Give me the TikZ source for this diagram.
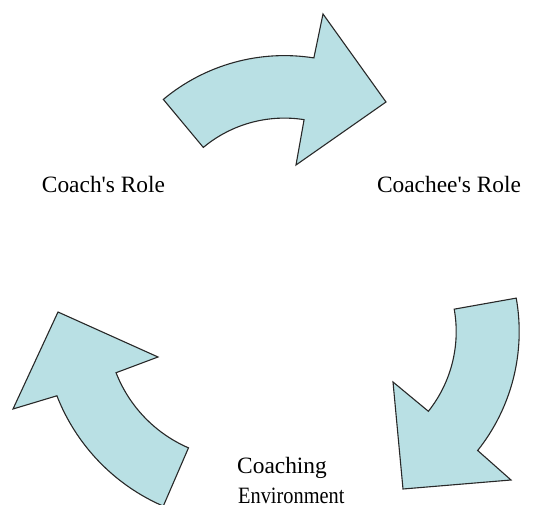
\documentclass[tikz,border=0pt]{standalone}
\usepackage{fontspec}
\setmainfont{Liberation Serif}
\usetikzlibrary{calc}

\definecolor{arrowfill}{RGB}{185,224,228}
\definecolor{arrowline}{RGB}{40,40,40}

\tikzset{
  bentarrow/.style={fill=arrowfill, draw=arrowline, line width=1.1pt, line join=miter},
  rolelabel/.style={font=\fontsize{23.4}{31}\selectfont, inner sep=0pt, anchor=base}
}

\begin{document}
\begin{tikzpicture}[x=1pt, y=1pt]
  \useasboundingbox (0,0) rectangle (533,504);
  \clip (0,0) rectangle (533,504);

  % centres of the three curved arrows
  \coordinate (ctop)   at (284.3,259.4);
  \coordinate (cright) at (328.2,172.4);
  \coordinate (cleft)  at (242.3,180.5);

  % upper arrow, sweeping to the right
  \path[bentarrow]
    ($(ctop)+(129.8:189)$) arc[start angle=129.8, end angle=81, radius=189]
    -- (323,490) -- (386,402) -- (296,339)
    -- ($(ctop)+(81:126.5)$) arc[start angle=81, end angle=129.8, radius=126.5]
    -- cycle;

  % right arrow, sweeping downwards
  \path[bentarrow]
    ($(cright)+(10.1:191)$) arc[start angle=10.1, end angle=-38.5, radius=191]
    -- (511,24) -- (403,15) -- (393,122)
    -- ($(cright)+(-38.5:128)$) arc[start angle=-38.5, end angle=10.1, radius=128]
    -- cycle;

  % left arrow, sweeping upwards
  \path[bentarrow]
    ($(cleft)+(246.6:199)$) arc[start angle=246.6, end angle=201.3, radius=199]
    -- (13,95) -- (58,192) -- (158,147)
    -- ($(cleft)+(201.3:135.5)$) arc[start angle=201.3, end angle=246.6, radius=135.5]
    -- cycle;

  % labels
  \node[rolelabel] (coach)   at (103.5,311) {Coach\textquotesingle s Role};
  \node[rolelabel] (coachee) at (449,311)   {Coachee\textquotesingle s Role};
  \node[rolelabel, anchor=base west] (envA) at (237,31) {Coaching};
  \node[rolelabel, anchor=base west] (envB) at (238,1)  {\scalebox{0.87}[1]{Environment}};
\end{tikzpicture}
\end{document}
